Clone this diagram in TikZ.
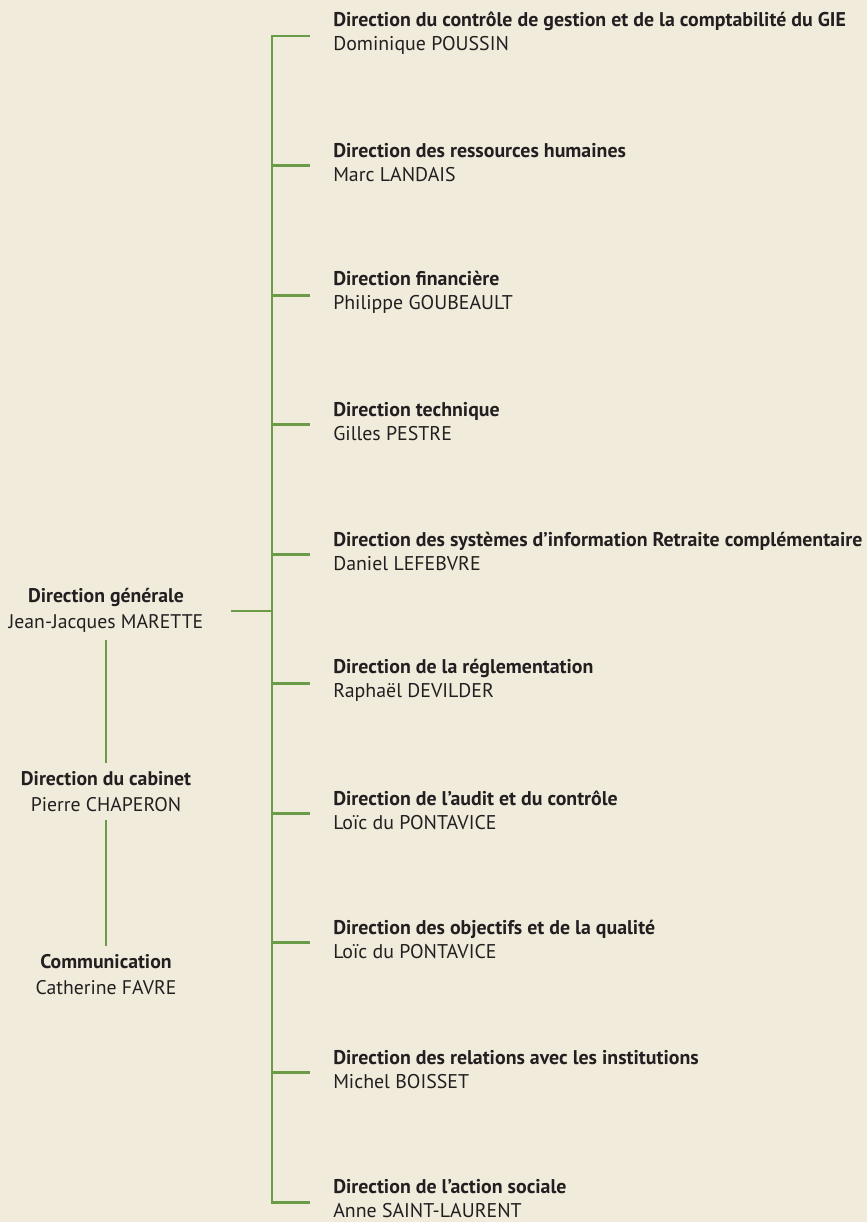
\documentclass[tikz,border=0pt]{standalone}
\usepackage{fontspec}
\setmainfont{PT Sans}
\usepackage{xcolor}
\usepackage{tikz}

\definecolor{fond}{RGB}{241,235,220}
\definecolor{vert}{RGB}{106,155,70}
\definecolor{encre}{RGB}{35,31,32}

\tikzset{
  poste/.style={anchor=west, inner sep=0pt, align=left, text=encre,
    font=\fontsize{14.9}{18}\selectfont},
  chef/.style={inner sep=0pt, outer sep=6pt, align=center, text=encre,
    font=\fontsize{14.8}{19.5}\selectfont},
  trait/.style={draw=vert, line width=2.2pt},
}

\begin{document}
\begin{tikzpicture}[x=0.75pt,y=0.75pt,yscale=-1,xscale=1]
%set diagram to 867 x 1222
\fill[fond] (0,0) rectangle (867,1222);

% Directions, one branch each
\foreach \titre/\nom [count=\i from 0] in {
  {Direction du contrôle de gestion et de la comptabilité du GIE}/{Dominique POUSSIN},
  {Direction des ressources humaines}/{Marc LANDAIS},
  {Direction financière}/{Philippe GOUBEAULT},
  {Direction technique}/{Gilles PESTRE},
  {Direction des systèmes d’information Retraite complémentaire}/{Daniel LEFEBVRE},
  {Direction de la réglementation}/{Raphaël DEVILDER},
  {Direction de l’audit et du contrôle}/{Loïc du PONTAVICE},
  {Direction des objectifs et de la qualité}/{Loïc du PONTAVICE},
  {Direction des relations avec les institutions}/{Michel BOISSET},
  {Direction de l’action sociale}/{Anne SAINT-LAURENT}}{
  \pgfmathsetmacro{\yb}{36+129.56*\i}
  \coordinate (b\i) at (310,\yb);
  \coordinate (s\i) at (272,\yb);
  % Text Node
  \node[poste] (d\i) at (333,\yb-3) {\textbf{\titre}\\\nom};
  \draw[trait] (s\i) -- (b\i);
}
%Straight Lines spine
\draw[trait] (b0) -- (s0) -- (s9) -- (b9);

% Left column
\node[chef] (dg) at (106,610) {\textbf{Direction générale}\\Jean-Jacques MARETTE};
\node[chef] (cab) at (106,791.5) {\textbf{Direction du cabinet}\\Pierre CHAPERON};
\node[chef] (com) at (106,974.5) {\textbf{Communication}\\Catherine FAVRE};
\coordinate (dgx) at (231,611);

\draw[trait] (dg) -- (cab);
\draw[trait] (cab) -- (com);
\draw[trait] (dgx) -- (dgx -| s0);

\end{tikzpicture}
\end{document}
